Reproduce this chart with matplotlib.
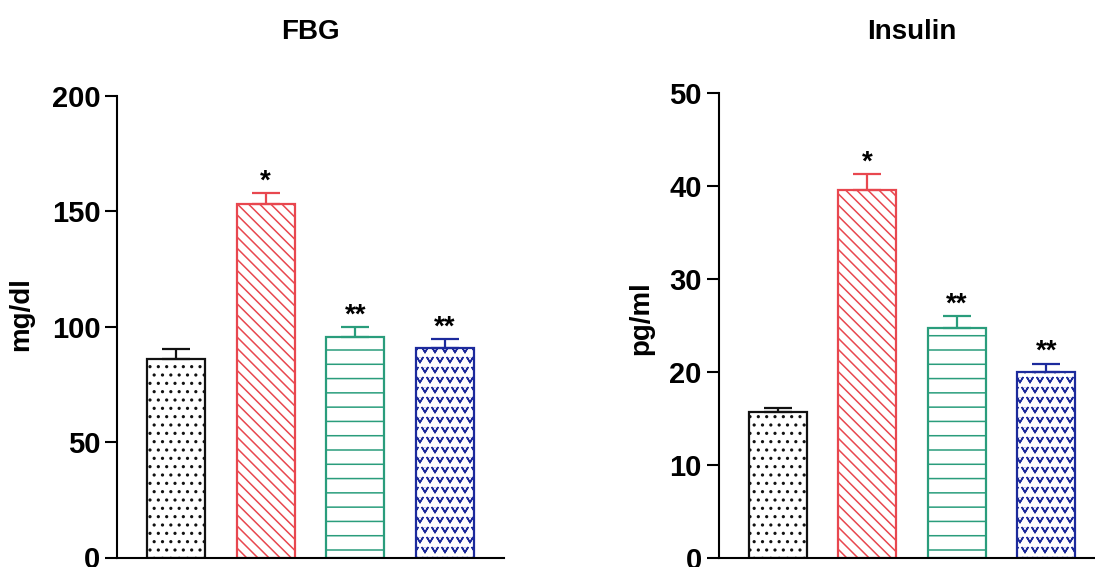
import warnings
import numpy as np
import matplotlib
matplotlib.use('Agg')
import matplotlib.pyplot as plt
from matplotlib import hatch as mhatch
from matplotlib.path import Path

warnings.filterwarnings('ignore')

#%% data
groups = ['Control', 'Model', 'Treat 1', 'Treat 2']
fbg_mean = [86.0, 153.3, 95.5, 91.0]
fbg_err = [4.3, 4.6, 4.2, 3.8]
ins_mean = [15.7, 39.6, 24.7, 20.0]
ins_err = [0.4, 1.7, 1.3, 0.9]
sig = ['', '*', '**', '**']

colors = ['#111111', '#E8474F', '#2A9D7C', '#1C2A9C']
hatches = ['..', '\\\\\\', '_', 'vv']


#%% custom hatches: v shapes and sparser horizontal lines
class VHatch(mhatch.Shapes):
    size = 0.6
    filled = False

    def __init__(self, hatch, density):
        self.num_rows = hatch.count('v') * 5
        self.shape_vertices = np.array([[-0.5, 0.4], [0.0, -0.4], [0.5, 0.4]])
        self.shape_codes = np.array([Path.MOVETO, Path.LINETO, Path.LINETO],
                                    dtype=Path.code_type)
        super().__init__(hatch, density)


class SparseHorizontal(mhatch.HorizontalHatch):
    def __init__(self, hatch, density):
        self.num_lines = hatch.count('_') * 7
        self.num_vertices = self.num_lines * 2


mhatch._hatch_types.append(VHatch)
mhatch._hatch_types.append(SparseHorizontal)

plt.rcParams['font.family'] = ['Liberation Sans', 'DejaVu Sans']
plt.rcParams['font.weight'] = 'bold'
plt.rcParams['hatch.linewidth'] = 1.1

fig = plt.figure(figsize=(10.95, 5.67), dpi=100)
W, H = 1095.0, 567.0


def panel(rect, means, errs, ymax, step, title, ylabel, label_xy):
    ax = fig.add_axes(rect)
    x = np.arange(len(means))
    ax.bar(x, means, width=0.65, color='white', edgecolor=colors,
           linewidth=1.6, hatch=hatches, zorder=2)
    for xi, m, e, c, s in zip(x, means, errs, colors, sig):
        ax.errorbar(xi, m, yerr=[[0], [e]], fmt='none', ecolor=c, capsize=10,
                    elinewidth=1.6, capthick=1.6, zorder=3)
        if s:
            ax.annotate(s, (xi, m + e), xytext=(0, -1), textcoords='offset points',
                        ha='center', va='bottom', fontsize=20, fontweight='bold')
    ax.set_xlim(-0.66, 3.66)
    ax.set_ylim(0, ymax)
    ax.set_yticks(np.arange(0, ymax + 1, step))
    ax.set_xticks([])
    for side in ['top', 'right']:
        ax.spines[side].set_visible(False)
    for side in ['left', 'bottom']:
        ax.spines[side].set_linewidth(1.5)
    ax.tick_params(axis='y', length=9, width=1.5, pad=3, labelsize=21)
    ax.set_ylabel(ylabel, fontsize=20, fontweight='bold')
    ax.yaxis.set_label_coords(*label_xy)
    pos = ax.get_position()
    fig.text(pos.x0 + pos.width / 2, 1 - 32 / H, title, ha='center', va='center',
             fontsize=20, fontweight='bold')
    return ax


panel([117 / W, 9.5 / H, 387 / W, 461.5 / H], fbg_mean, fbg_err, 200, 50,
      'FBG', 'mg/dl', (-0.215, 0.528))
panel([718.5 / W, 9 / H, 387 / W, 465 / H], ins_mean, ins_err, 50, 10,
      'Insulin', 'pg/ml', (-0.165, 0.516))

fig.savefig('out.png', dpi=100)
